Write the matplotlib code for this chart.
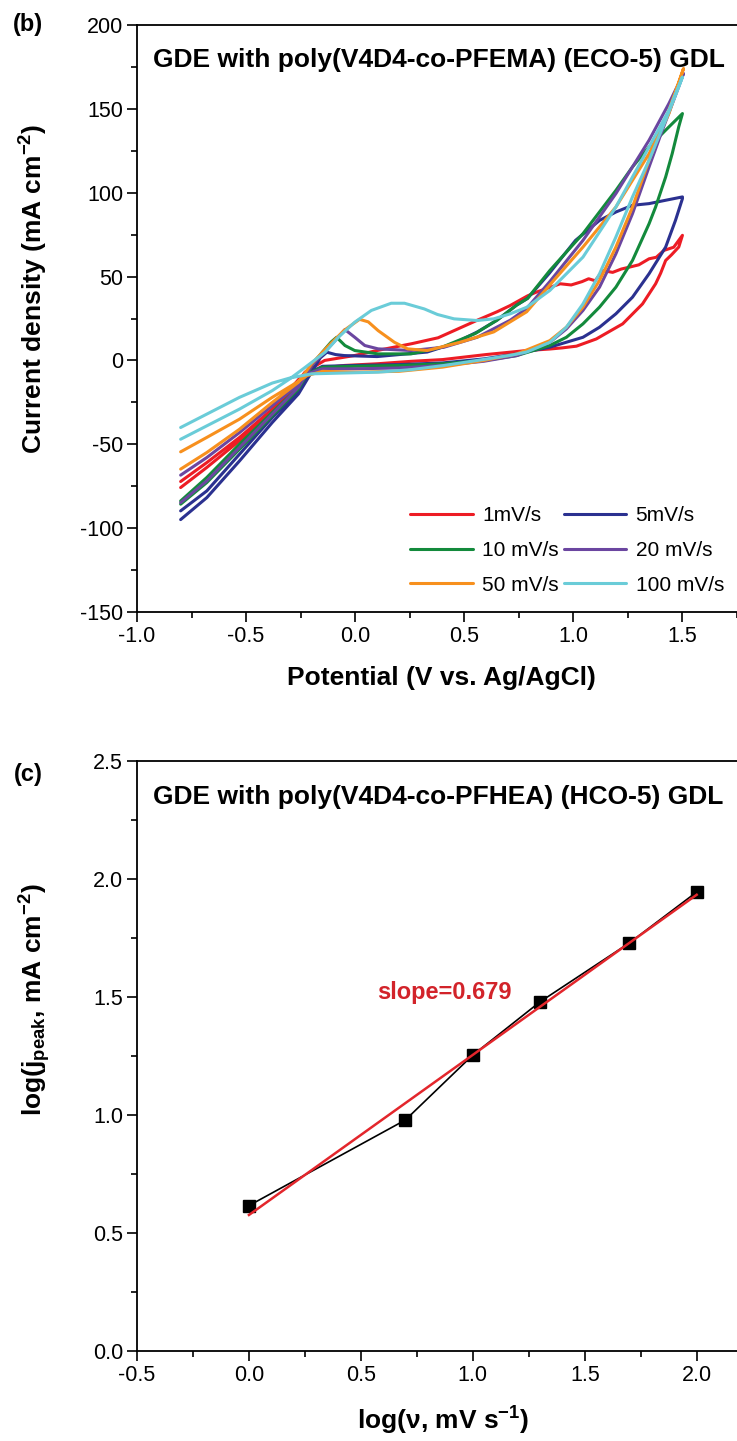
import numpy as np
import matplotlib
matplotlib.use("Agg")
import matplotlib.pyplot as plt

plt.rcParams['font.family'] = ['Liberation Sans', 'DejaVu Sans']
plt.rcParams['mathtext.fontset'] = 'custom'
plt.rcParams['mathtext.rm'] = 'Liberation Sans'
plt.rcParams['mathtext.bf'] = 'Liberation Sans:bold'
plt.rcParams['mathtext.it'] = 'Liberation Sans:italic'
plt.rcParams['axes.unicode_minus'] = False

# ---------------- data: panel (b) cyclic voltammograms ----------------
scan_labels = ['1mV/s', '5mV/s', '10 mV/s', '20 mV/s', '50 mV/s', '100 mV/s']
scan_colors = ['#ED1C24', '#2B3190', '#138A3C', '#6B46A0', '#F7901E', '#6ACCD8']

# 1 mV/s
v1_fwd = [-0.80, -0.68, -0.53, -0.38, -0.30, -0.23, -0.14, 0.00, 0.10, 0.26, 0.38, 0.44, 0.56, 0.65, 0.71, 0.79, 0.83, 0.88, 0.94, 0.99, 1.04, 1.07, 1.10, 1.135, 1.18, 1.22, 1.256, 1.30, 1.347, 1.38, 1.415, 1.46, 1.50]
i1_fwd = [-75.8, -63.8, -47.9, -31.0, -19.0, -7.0, 0.0, 3.0, 5.9, 10.0, 13.5, 17.0, 24.0, 29.0, 32.7, 38.5, 40.7, 43.0, 45.7, 45.0, 47.0, 48.7, 47.5, 53.6, 52.5, 54.5, 55.6, 57.0, 60.6, 61.5, 65.6, 67.5, 74.6]
v1_rev = [1.50, 1.483, 1.45, 1.423, 1.40, 1.377, 1.317, 1.226, 1.105, 1.014, 0.95, 0.892, 0.786, 0.60, 0.40, 0.26, 0.10, -0.05, -0.15, -0.25, -0.38, -0.53, -0.68, -0.80]
i1_rev = [74.6, 67.6, 63.0, 59.6, 52.0, 45.7, 33.7, 21.8, 12.8, 8.5, 7.5, 6.8, 5.9, 3.5, 0.5, -0.5, -2.0, -3.0, -4.5, -10.0, -29.0, -45.9, -60.9, -72.2]

# 5 mV/s
v5_fwd = [-0.80, -0.68, -0.53, -0.38, -0.26, -0.20, -0.16, -0.13, -0.09, -0.05, 0.10, 0.33, 0.45, 0.56, 0.65, 0.74, 0.79, 0.89, 1.01, 1.12, 1.195, 1.271, 1.347, 1.423, 1.50]
i5_fwd = [-94.9, -81.8, -59.9, -37.0, -20.0, -7.0, 1.5, 4.9, 3.5, 2.9, 2.3, 5.0, 10.0, 17.0, 24.0, 33.0, 37.0, 52.0, 71.6, 83.5, 88.5, 92.5, 93.5, 95.5, 97.5]
v5_rev = [1.50, 1.468, 1.423, 1.347, 1.271, 1.195, 1.12, 1.044, 0.892, 0.741, 0.589, 0.40, 0.20, 0.00, -0.15, -0.22, -0.26, -0.38, -0.53, -0.68, -0.80]
i5_rev = [96.5, 83.5, 67.6, 51.7, 37.7, 27.8, 19.8, 13.8, 7.9, 3.9, 0.9, -1.5, -2.5, -3.0, -3.5, -8.0, -18.0, -34.0, -55.9, -77.8, -89.7]

# 10 mV/s
v10_fwd = [-0.80, -0.68, -0.53, -0.38, -0.26, -0.20, -0.15, -0.11, -0.085, -0.047, -0.002, 0.105, 0.256, 0.40, 0.55, 0.65, 0.74, 0.79, 0.892, 1.044, 1.195, 1.271, 1.347, 1.423, 1.50]
i10_fwd = [-85.7, -72.8, -52.9, -33.0, -17.0, -3.0, 5.0, 11.0, 13.8, 8.9, 5.9, 3.9, 3.9, 8.0, 16.0, 24.0, 33.0, 37.0, 53.6, 75.6, 101.4, 115.4, 127.3, 137.3, 147.2]
v10_rev = [1.50, 1.483, 1.453, 1.423, 1.377, 1.347, 1.271, 1.195, 1.12, 1.044, 0.968, 0.892, 0.741, 0.59, 0.40, 0.20, 0.00, -0.15, -0.22, -0.26, -0.38, -0.53, -0.68, -0.80]
i10_rev = [147.2, 139.3, 123.3, 109.4, 91.5, 81.5, 59.6, 43.7, 31.8, 21.8, 13.8, 8.9, 2.9, 0.0, -2.0, -3.0, -3.5, -4.0, -8.0, -16.0, -31.0, -49.9, -69.8, -83.8]

# 20 mV/s
v20_fwd = [-0.80, -0.68, -0.53, -0.38, -0.26, -0.20, -0.14, -0.08, -0.047, -0.002, 0.044, 0.105, 0.256, 0.408, 0.559, 0.711, 0.786, 0.892, 1.044, 1.195, 1.347, 1.438, 1.505]
i20_fwd = [-84.8, -71.8, -51.9, -32.0, -16.0, -3.0, 5.0, 13.5, 18.4, 13.8, 8.9, 6.9, 5.9, 7.9, 13.8, 24.0, 31.0, 47.0, 71.6, 99.5, 131.3, 153.2, 171.1]
v20_rev = [1.505, 1.483, 1.408, 1.347, 1.271, 1.195, 1.12, 1.044, 0.968, 0.892, 0.741, 0.59, 0.40, 0.20, 0.00, -0.15, -0.22, -0.26, -0.38, -0.53, -0.68, -0.80]
i20_rev = [171.1, 163.2, 137.3, 115.4, 87.5, 63.6, 43.7, 29.8, 18.8, 10.8, 2.9, -0.5, -3.0, -4.5, -5.0, -5.0, -8.0, -14.0, -27.0, -43.0, -57.9, -68.4]

# 50 mV/s
v50_fwd = [-0.80, -0.68, -0.53, -0.38, -0.26, -0.20, -0.12, -0.05, 0.02, 0.06, 0.105, 0.18, 0.24, 0.33, 0.48, 0.635, 0.786, 0.892, 1.044, 1.195, 1.347, 1.438, 1.505]
i50_fwd = [-64.8, -54.9, -41.0, -25.0, -13.0, -2.0, 9.0, 18.0, 24.5, 23.0, 17.8, 10.8, 6.9, 5.9, 10.8, 17.0, 29.0, 45.0, 67.6, 91.5, 123.3, 147.2, 174.1]
v50_rev = [1.505, 1.438, 1.347, 1.271, 1.195, 1.12, 1.044, 0.968, 0.892, 0.741, 0.59, 0.40, 0.20, 0.00, -0.15, -0.22, -0.26, -0.38, -0.53, -0.68, -0.80]
i50_rev = [174.1, 149.2, 119.4, 91.5, 67.6, 47.7, 31.8, 19.8, 11.8, 3.9, 0.0, -4.0, -6.5, -7.0, -6.5, -9.0, -12.5, -22.0, -35.0, -45.9, -54.5]

# 100 mV/s
v100_fwd = [-0.80, -0.68, -0.53, -0.38, -0.30, -0.229, -0.138, -0.077, -0.002, 0.074, 0.165, 0.226, 0.317, 0.377, 0.453, 0.559, 0.635, 0.711, 0.786, 0.892, 1.044, 1.195, 1.347, 1.438, 1.50]
i100_fwd = [-47.0, -39.0, -29.0, -18.0, -11.0, -4.1, 4.9, 13.8, 22.8, 29.8, 34.1, 34.1, 30.7, 27.4, 24.8, 23.8, 24.8, 27.8, 31.7, 41.7, 61.6, 91.5, 127.3, 149.2, 169.0]
v100_rev = [1.50, 1.483, 1.423, 1.347, 1.271, 1.195, 1.12, 1.044, 0.968, 0.892, 0.786, 0.711, 0.559, 0.408, 0.256, 0.105, -0.05, -0.20, -0.30, -0.38, -0.53, -0.68, -0.80]
i100_rev = [169.0, 163.2, 143.3, 119.4, 97.5, 73.6, 51.7, 33.7, 19.8, 10.8, 5.0, 3.0, 0.0, -3.0, -5.5, -7.0, -7.5, -8.0, -10.5, -13.5, -22.0, -32.0, -40.0]

# ---------------- data: panel (c) ----------------
log_v = [0.0, 0.699, 1.0, 1.301, 1.699, 2.0]
log_j = [0.616, 0.979, 1.254, 1.48, 1.729, 1.945]
slope_label = 'slope=0.679'

# ---------------- figure ----------------
W, H = 737, 1441
fig = plt.figure(figsize=(W / 100, H / 100), dpi=100)
ax1 = fig.add_axes([137 / W, 1 - 612 / H, 600 / W, 587 / H])
ax2 = fig.add_axes([137 / W, 1 - 1351 / H, 600 / W, 590 / H])

curves = [
    (v1_fwd, i1_fwd, v1_rev, i1_rev),
    (v5_fwd, i5_fwd, v5_rev, i5_rev),
    (v10_fwd, i10_fwd, v10_rev, i10_rev),
    (v20_fwd, i20_fwd, v20_rev, i20_rev),
    (v50_fwd, i50_fwd, v50_rev, i50_rev),
    (v100_fwd, i100_fwd, v100_rev, i100_rev),
]
handles = []
for (vf, jf, vr, jr), lab, col in zip(curves, scan_labels, scan_colors):
    h, = ax1.plot(list(vf) + list(vr), list(jf) + list(jr), color=col, lw=2.2,
                  label=lab, solid_joinstyle='round', solid_capstyle='round')
    handles.append(h)

for ax in (ax1, ax2):
    ax.spines['right'].set_visible(False)
    for s in ('left', 'bottom', 'top'):
        ax.spines[s].set_linewidth(1.3)
    ax.tick_params(which='major', direction='out', length=7, width=1.2,
                   labelsize=15.5, top=False, right=False, pad=3)
    ax.tick_params(which='minor', direction='out', length=4, width=1.2,
                   top=False, right=False)

ax1.set_xlim(-1.0, 1.727)
ax1.set_ylim(-150, 200)
ax1.set_xticks(np.arange(-1.0, 1.51, 0.5))
ax1.set_xticks(np.arange(-1.0, 1.76, 0.25), minor=True)
ax1.set_yticks(np.arange(-150, 201, 50))
ax1.set_yticks(np.arange(-150, 201, 25), minor=True)
ax1.set_xticklabels(['-1.0', '-0.5', '0.0', '0.5', '1.0', '1.5'])

ax1.set_xlabel('Potential (V vs. Ag/AgCl)', fontsize=19, fontweight='bold')
ax1.set_ylabel(r'Current density (mA cm$^{\mathbf{-2}}$)', fontsize=19, fontweight='bold')
ax1.xaxis.set_label_coords(0.507, -0.092)
ax1.yaxis.set_label_coords(-0.145, 0.55)
ax1.text(0.027, 0.94, 'GDE with poly(V4D4-co-PFEMA) (ECO-5) GDL', transform=ax1.transAxes,
         ha='left', va='center', fontsize=19, fontweight='bold')

order = [0, 2, 4, 1, 3, 5]
ax1.legend([handles[k] for k in order], [scan_labels[k] for k in order], ncol=2,
           frameon=False, fontsize=15, handlelength=3.0, handletextpad=0.45,
           columnspacing=0.25, labelspacing=0.75, loc='upper left',
           bbox_to_anchor=(0.455, 0.18), borderaxespad=0, borderpad=0)

# panel (c)
fit = np.polyfit(log_v, log_j, 1)
xfit = np.array([min(log_v), max(log_v)])
ax2.plot(log_v, log_j, color='black', lw=1.2, marker='s', markersize=8, zorder=2)
ax2.plot(xfit, np.polyval(fit, xfit), color='#E3262C', lw=1.8, zorder=3)
ax2.text(0.875, 1.52, slope_label, color='#D2232A', fontsize=17, fontweight='bold',
         ha='center', va='center')

ax2.set_xlim(-0.5, 2.18)
ax2.set_ylim(0.0, 2.5)
ax2.set_xticks(np.arange(-0.5, 2.01, 0.5))
ax2.set_xticks(np.arange(-0.5, 2.2, 0.25), minor=True)
ax2.set_yticks(np.arange(0.0, 2.51, 0.5))
ax2.set_yticks(np.arange(0.0, 2.51, 0.25), minor=True)
ax2.set_xticklabels(['-0.5', '0.0', '0.5', '1.0', '1.5', '2.0'])
ax2.set_yticklabels(['0.0', '0.5', '1.0', '1.5', '2.0', '2.5'])
ax2.set_xlabel(r'log(ν, mV s$^{\mathbf{-1}}$)', fontsize=19, fontweight='bold')
ax2.set_ylabel(r'log(j$_{\mathbf{peak}}$, mA cm$^{\mathbf{-2}}$)', fontsize=19, fontweight='bold')
ax2.xaxis.set_label_coords(0.51, -0.092)
ax2.yaxis.set_label_coords(-0.14, 0.595)
ax2.text(0.027, 0.939, 'GDE with poly(V4D4-co-PFHEA) (HCO-5) GDL', transform=ax2.transAxes,
         ha='left', va='center', fontsize=19, fontweight='bold')

fig.text(28 / W, 1 - 25 / H, '(b)', ha='center', va='center', fontsize=17, fontweight='bold')
fig.text(28 / W, 1 - 775 / H, '(c)', ha='center', va='center', fontsize=17, fontweight='bold')

fig.savefig('out.png', dpi=100)
